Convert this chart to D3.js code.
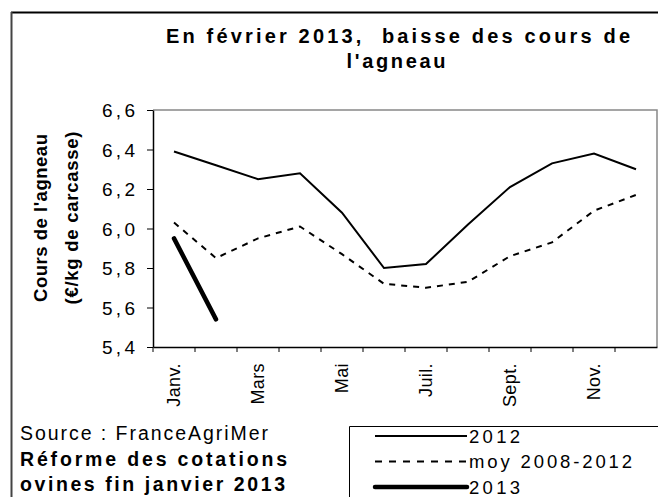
<!DOCTYPE html>
<html><head><meta charset="utf-8">
<script src="https://cdn.jsdelivr.net/npm/d3@7"></script>
<style>body{margin:0;background:#fff}svg{display:block;font-family:Arial,"Liberation Sans",sans-serif}</style>
</head><body><svg id="c" width="658" height="497"></svg>
<script>
const months = ["Janv.","Févr.","Mars","Avr.","Mai","Juin","Juil.","Août","Sept.","Oct.","Nov.","Déc."];
const shownLabels = ["Janv.","Mars","Mai","Juil.","Sept.","Nov."];
const s2012 = [6.39,6.32,6.25,6.28,6.08,5.80,5.82,6.02,6.21,6.33,6.38,6.30];
const sMoy = [6.03,5.85,5.95,6.01,5.87,5.72,5.70,5.73,5.86,5.93,6.09,6.17];
const s2013 = [5.95,5.54];
const yTicks = [5.4,5.6,5.8,6.0,6.2,6.4,6.6];
const legendLabels = ["2012","moy 2008-2012","2013"];

const svg = d3.select("#c");
const L=153,R=657,T=110,B=347;
const x = d3.scaleBand().domain(months).range([L,R]);
const y = d3.scaleLinear().domain([5.4,6.6]).range([B,T]);
const fmt = d => d3.format(".1f")(d).replace(".",",");

// outer frame
svg.append("line").attr("x1",11).attr("x2",658).attr("y1",12.5).attr("y2",12.5).attr("stroke","#000").attr("stroke-width",2);
svg.append("line").attr("x1",11.5).attr("x2",11.5).attr("y1",12).attr("y2",497).attr("stroke","#444").attr("stroke-width",2);

// plot border top/right
svg.append("path").attr("d",`M${L},${T}H${R}V${B}`).attr("fill","none").attr("stroke","#888").attr("stroke-width",1.5);

// axes
const yAxis = svg.append("g").attr("transform",`translate(${L},0)`)
  .call(d3.axisLeft(y).tickValues(yTicks).tickFormat(fmt).tickSize(6).tickSizeOuter(0));
yAxis.select(".domain").attr("stroke","#000").attr("stroke-width",1.5);
yAxis.selectAll(".tick line").attr("stroke","#000");
yAxis.selectAll("text").attr("font-size",19).attr("fill","#000").attr("textLength",33).attr("lengthAdjust","spacing")
  .attr("x",-18).attr("dy","0.35em");

const xAxis = svg.append("g").attr("transform",`translate(0,${B})`)
  .call(d3.axisBottom(x).tickSize(5).tickSizeOuter(0).tickFormat(d=>shownLabels.includes(d)?d:""));
xAxis.select(".domain").attr("stroke","#000").attr("stroke-width",1.5);
// ticks at band boundaries
xAxis.selectAll(".tick line").attr("x1",-x.bandwidth()/2).attr("x2",-x.bandwidth()/2).attr("stroke","#000");
xAxis.selectAll(".tick text").attr("font-size",18).attr("fill","#000").attr("letter-spacing","0.4px")
  .attr("transform","rotate(-90)").attr("text-anchor","end").attr("x",-16).attr("y",0).attr("dy","0.33em");

// y title
const yt = svg.append("text").attr("transform","translate(47,218) rotate(-90)").attr("text-anchor","middle")
  .attr("font-weight","bold").attr("font-size",18.5).attr("fill","#000");
yt.append("tspan").attr("x",0).attr("y",0).attr("textLength",168).attr("lengthAdjust","spacing").text("Cours de l'agneau");
yt.append("tspan").attr("x",0).attr("y",31).attr("textLength",173).attr("lengthAdjust","spacing").text("(€/kg de carcasse)");

// title
const tt = svg.append("g").attr("font-weight","bold").attr("font-size",20).attr("fill","#000").attr("text-anchor","middle");
tt.append("text").attr("x",398).attr("y",43).attr("textLength",464).attr("lengthAdjust","spacing")
  .style("white-space","pre").text("En février 2013,  baisse des cours de");
tt.append("text").attr("x",396).attr("y",68).attr("textLength",99).attr("lengthAdjust","spacing").text("l'agneau");

const cx = d => x(d)+x.bandwidth()/2;
const line = d3.line().x(d=>cx(d.m)).y(d=>y(d.v));
const mk = arr => arr.map((v,i)=>({m:months[i],v}));
svg.append("path").datum(mk(sMoy)).attr("d",line).attr("fill","none").attr("stroke","#000").attr("stroke-width",2).attr("stroke-dasharray","6,6");
svg.append("path").datum(mk(s2012)).attr("d",line).attr("fill","none").attr("stroke","#000").attr("stroke-width",2);
svg.append("path").datum(mk(s2013)).attr("d",line).attr("fill","none").attr("stroke","#000").attr("stroke-width",4.5).attr("stroke-linecap","round");

// source
const st = svg.append("g").attr("font-size",19.5).attr("fill","#000");
st.append("text").attr("x",20).attr("y",440).attr("textLength",248).attr("lengthAdjust","spacing").text("Source : FranceAgriMer");
st.append("text").attr("x",20).attr("y",466).attr("font-weight","bold").attr("textLength",267).attr("lengthAdjust","spacing").text("Réforme des cotations");
st.append("text").attr("x",20).attr("y",491).attr("font-weight","bold").attr("textLength",265).attr("lengthAdjust","spacing").text("ovines fin janvier 2013");

// legend
svg.append("path").attr("d","M349.5,497V426.5H658").attr("fill","none").attr("stroke","#000").attr("stroke-width",1);
const styles = [{w:2,d:null},{w:2,d:"7,7"},{w:4.5,d:null}];
const lens = [51,163,51];
legendLabels.forEach((lab,i)=>{
  const yy = 436 + i*25.5;
  svg.append("line").attr("x1",375).attr("x2",467).attr("y1",yy).attr("y2",yy).attr("stroke","#000")
    .attr("stroke-width",styles[i].w).attr("stroke-dasharray",styles[i].d).attr("stroke-linecap",i===2?"round":"butt");
  svg.append("text").attr("x",469).attr("y",yy+6.5).attr("font-size",18.5).attr("textLength",lens[i]).attr("lengthAdjust","spacing").attr("fill","#000").text(lab);
});
</script></body></html>
